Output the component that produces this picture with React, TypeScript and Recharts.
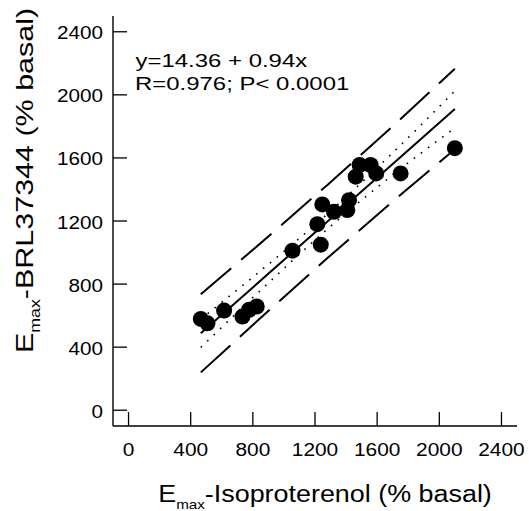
import { ComposedChart, XAxis, YAxis, Line, Scatter } from 'recharts'

const X_TICKS = [0, 400, 800, 1200, 1600, 2000, 2400]
const Y_TICKS = [0, 400, 800, 1200, 1600, 2000, 2400]

// measured points: Emax isoproterenol vs Emax BRL37344
const ISO = [465, 508, 615, 733, 776, 825, 1055, 1237, 1215, 1247, 1322, 1408, 1419, 1462, 1487, 1558, 1594, 1751, 2100]
const BRL = [579, 551, 632, 594, 637, 658, 1012, 1050, 1180, 1305, 1258, 1269, 1332, 1481, 1555, 1555, 1502, 1502, 1662]

// regression line and bands
const BAND_X = [465, 800, 1280, 1700, 2100]
const FIT_Y = [488, 779, 1197, 1562, 1910]
const CONF_HI = [578, 844, 1245, 1632, 2025]
const CONF_LO = [398, 714, 1149, 1492, 1790]
const PRED_HI = [736, 1017, 1429, 1800, 2165]
const PRED_LO = [240, 541, 965, 1324, 1655]

const points = ISO.map((x, i) => ({ x, y: BRL[i] }))
const bands = BAND_X.map((x, i) => ({
  x,
  fit: FIT_Y[i],
  confHi: CONF_HI[i],
  confLo: CONF_LO[i],
  predHi: PRED_HI[i],
  predLo: PRED_LO[i],
}))

const FONT = '"Liberation Sans", Arial, sans-serif'
const TICK_LEN = 14
const AXIS = { stroke: '#000', strokeWidth: 1.4 }

function BottomTick({ x, y, payload }: any) {
  return (
    <g>
      <line x1={x} y1={y} x2={x} y2={y - TICK_LEN} stroke="#000" strokeWidth={1.3} />
      <text
        transform={`translate(${x} ${y + 29.5}) scale(1.16 1)`}
        textAnchor="middle"
        fontSize={18}
        fontFamily={FONT}
        fill="#000"
      >
        {payload.value}
      </text>
    </g>
  )
}

function LeftTick({ x, y, payload }: any) {
  return (
    <g>
      <line x1={x} y1={y} x2={x + TICK_LEN} y2={y} stroke="#000" strokeWidth={1.3} />
      <text
        transform={`translate(${x - 10} ${y + 7.5}) scale(1.15 1)`}
        textAnchor="end"
        fontSize={18}
        fontFamily={FONT}
        fill="#000"
      >
        {payload.value}
      </text>
    </g>
  )
}

function TopTick({ x, y }: any) {
  return <line x1={x} y1={y} x2={x} y2={y + TICK_LEN} stroke="#000" strokeWidth={1.3} />
}

function RightTick({ x, y }: any) {
  return <line x1={x} y1={y} x2={x - TICK_LEN} y2={y} stroke="#000" strokeWidth={1.3} />
}

function Dot8(props: any) {
  return <circle cx={props.cx} cy={props.cy} r={8} fill="#000" />
}

export default function App() {
  return (
    <div style={{ position: 'absolute', left: 0, top: 0, width: 529, height: 511, background: '#fff' }}>
      <ComposedChart width={529} height={511} margin={{ top: 16, right: 12, bottom: 0, left: 0 }}>
        <XAxis
          type="number"
          dataKey="x"
          domain={[-100, 2500]}
          ticks={X_TICKS}
          interval={0}
          allowDataOverflow
          height={85}
          tickSize={0}
          tickMargin={0}
          tickLine={false}
          axisLine={AXIS}
          tick={(p: any) => <BottomTick {...p} />}
        />
        <XAxis
          xAxisId="top"
          orientation="top"
          type="number"
          dataKey="x"
          domain={[-100, 2500]}
          ticks={X_TICKS}
          interval={0}
          allowDataOverflow
          height={0}
          tickSize={0}
          tickMargin={0}
          tickLine={false}
          axisLine={AXIS}
          tick={(p: any) => <TopTick {...p} />}
        />
        <YAxis
          type="number"
          domain={[-100, 2500]}
          ticks={Y_TICKS}
          interval={0}
          allowDataOverflow
          width={113}
          tickSize={0}
          tickMargin={0}
          tickLine={false}
          axisLine={AXIS}
          tick={(p: any) => <LeftTick {...p} />}
        />
        <YAxis
          yAxisId="right"
          orientation="right"
          type="number"
          domain={[-100, 2500]}
          ticks={Y_TICKS}
          interval={0}
          allowDataOverflow
          width={0}
          tickSize={0}
          tickMargin={0}
          tickLine={false}
          axisLine={AXIS}
          tick={(p: any) => <RightTick {...p} />}
        />
        <Line data={bands} dataKey="predHi" type="linear" stroke="#000" strokeWidth={2} strokeDasharray="40 13" dot={false} activeDot={false} isAnimationActive={false} />
        <Line data={bands} dataKey="predLo" type="linear" stroke="#000" strokeWidth={2} strokeDasharray="40 13" dot={false} activeDot={false} isAnimationActive={false} />
        <Line data={bands} dataKey="confHi" type="monotone" stroke="#000" strokeWidth={1.6} strokeDasharray="1.6 7.3" dot={false} activeDot={false} isAnimationActive={false} />
        <Line data={bands} dataKey="confLo" type="monotone" stroke="#000" strokeWidth={1.6} strokeDasharray="1.6 7.3" dot={false} activeDot={false} isAnimationActive={false} />
        <Line data={bands} dataKey="fit" type="linear" stroke="#000" strokeWidth={2} dot={false} activeDot={false} isAnimationActive={false} />
        <Scatter data={points} dataKey="y" fill="#000" shape={Dot8} isAnimationActive={false} />

        <text transform="translate(135.5 66.7) scale(1.26 1)" fontSize={19} fontFamily={FONT} fill="#000">
          y=14.36 + 0.94x
        </text>
        <text transform="translate(135 90) scale(1.26 1)" fontSize={19} fontFamily={FONT} fill="#000">
          R=0.976; P&lt; 0.0001
        </text>

        <text transform="translate(325 501.7) scale(1.17 1)" textAnchor="middle" fontFamily={FONT} fill="#000">
          <tspan fontSize={23}>E</tspan>
          <tspan fontSize={13} dy={7}>max</tspan>
          <tspan fontSize={23} dy={-7}>-Isoproterenol (% basal)</tspan>
        </text>
        <text transform="translate(33.3 180.5) rotate(-90) scale(1.27 1)" textAnchor="middle" fontFamily={FONT} fill="#000">
          <tspan fontSize={24}>E</tspan>
          <tspan fontSize={14} dy={7}>max</tspan>
          <tspan fontSize={24} dy={-7}>-BRL37344 (% basal)</tspan>
        </text>
      </ComposedChart>
    </div>
  )
}
